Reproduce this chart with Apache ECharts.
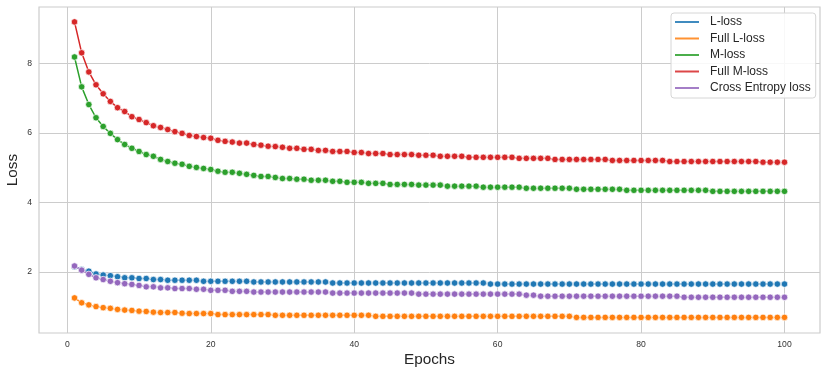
<!DOCTYPE html>
<html><head><meta charset="utf-8">
<script src="https://cdn.jsdelivr.net/npm/echarts@6/dist/echarts.min.js"></script>
<style>html,body{margin:0;padding:0;background:#fff}#c{width:827px;height:375px}</style>
</head><body><div id="c"></div>
<script>
const epochs = [1,2,3,4,5,6,7,8,9,10,11,12,13,14,15,16,17,18,19,20,21,22,23,24,25,26,27,28,29,30,31,32,33,34,35,36,37,38,39,40,41,42,43,44,45,46,47,48,49,50,51,52,53,54,55,56,57,58,59,60,61,62,63,64,65,66,67,68,69,70,71,72,73,74,75,76,77,78,79,80,81,82,83,84,85,86,87,88,89,90,91,92,93,94,95,96,97,98,99,100];

const lLoss = [2.15,2.07,2.02,1.94,1.91,1.89,1.86,1.83,1.83,1.81,
1.81,1.78,1.78,1.76,1.76,1.76,1.76,1.76,1.73,1.73,
1.73,1.73,1.73,1.73,1.73,1.71,1.71,1.71,1.71,1.71,
1.71,1.71,1.71,1.71,1.71,1.71,1.68,1.68,1.68,1.68,
1.68,1.68,1.68,1.68,1.68,1.68,1.68,1.68,1.68,1.68,
1.68,1.68,1.68,1.68,1.68,1.68,1.68,1.68,1.65,1.65,
1.65,1.65,1.65,1.65,1.65,1.65,1.65,1.65,1.65,1.65,
1.65,1.65,1.65,1.65,1.65,1.65,1.65,1.65,1.65,1.65,
1.65,1.65,1.65,1.65,1.65,1.65,1.65,1.65,1.65,1.65,
1.65,1.65,1.65,1.65,1.65,1.65,1.65,1.65,1.65,1.65];

const fullLLoss = [1.25,1.11,1.05,1.00,0.97,0.95,0.92,0.90,0.89,0.87,
0.86,0.84,0.83,0.83,0.83,0.81,0.80,0.80,0.80,0.80,
0.77,0.77,0.77,0.77,0.77,0.77,0.77,0.77,0.75,0.75,
0.75,0.75,0.75,0.75,0.75,0.75,0.75,0.75,0.75,0.75,
0.75,0.75,0.72,0.72,0.72,0.72,0.72,0.72,0.72,0.72,
0.72,0.72,0.72,0.72,0.72,0.72,0.72,0.72,0.72,0.72,
0.72,0.72,0.72,0.72,0.72,0.72,0.72,0.72,0.72,0.72,
0.69,0.69,0.69,0.69,0.69,0.69,0.69,0.69,0.69,0.69,
0.69,0.69,0.69,0.69,0.69,0.69,0.69,0.69,0.69,0.69,
0.69,0.69,0.69,0.69,0.69,0.69,0.69,0.69,0.69,0.69];

const mLoss = [8.19,7.33,6.82,6.44,6.19,5.99,5.81,5.67,5.56,5.47,
5.38,5.33,5.24,5.18,5.13,5.10,5.04,5.01,4.98,4.95,
4.90,4.87,4.87,4.84,4.81,4.78,4.75,4.75,4.72,4.69,
4.69,4.67,4.67,4.64,4.64,4.64,4.61,4.61,4.58,4.58,
4.58,4.55,4.55,4.55,4.52,4.52,4.52,4.52,4.50,4.50,
4.50,4.50,4.47,4.47,4.47,4.47,4.47,4.44,4.44,4.44,
4.44,4.44,4.44,4.41,4.41,4.41,4.41,4.41,4.41,4.41,
4.38,4.38,4.38,4.38,4.38,4.38,4.38,4.35,4.35,4.35,
4.35,4.35,4.35,4.35,4.35,4.35,4.35,4.35,4.35,4.32,
4.32,4.32,4.32,4.32,4.32,4.32,4.32,4.32,4.32,4.32];

const fullMLoss = [9.20,8.31,7.76,7.39,7.13,6.91,6.73,6.62,6.47,6.39,
6.30,6.21,6.16,6.10,6.04,5.99,5.93,5.90,5.87,5.85,
5.79,5.76,5.74,5.71,5.71,5.67,5.65,5.62,5.61,5.59,
5.56,5.56,5.53,5.53,5.50,5.50,5.47,5.47,5.47,5.44,
5.44,5.41,5.41,5.41,5.38,5.38,5.38,5.38,5.36,5.36,
5.36,5.33,5.33,5.33,5.33,5.30,5.30,5.30,5.30,5.30,
5.30,5.30,5.27,5.27,5.27,5.27,5.27,5.24,5.24,5.24,
5.24,5.24,5.24,5.24,5.24,5.21,5.21,5.21,5.21,5.21,
5.21,5.21,5.21,5.18,5.18,5.18,5.18,5.18,5.18,5.18,
5.18,5.18,5.18,5.18,5.18,5.18,5.16,5.16,5.16,5.16];

const ceLoss = [2.17,2.05,1.93,1.83,1.78,1.73,1.69,1.66,1.64,1.61,
1.57,1.57,1.54,1.54,1.52,1.52,1.52,1.50,1.50,1.47,
1.47,1.47,1.44,1.44,1.44,1.42,1.42,1.42,1.42,1.42,
1.42,1.42,1.42,1.42,1.42,1.42,1.39,1.39,1.39,1.39,
1.39,1.39,1.39,1.39,1.39,1.39,1.39,1.39,1.36,1.36,
1.36,1.36,1.36,1.36,1.36,1.36,1.36,1.36,1.36,1.36,
1.36,1.36,1.36,1.33,1.33,1.30,1.30,1.30,1.30,1.30,
1.30,1.30,1.30,1.30,1.30,1.30,1.30,1.30,1.30,1.30,
1.30,1.30,1.30,1.30,1.30,1.27,1.27,1.27,1.27,1.27,
1.27,1.27,1.27,1.27,1.27,1.27,1.27,1.27,1.27,1.27];

const seriesNames = ['L-loss','Full L-loss','M-loss','Full M-loss','Cross Entropy loss'];
const seriesColors = ['#1f77b4','#ff7f0e','#2ca02c','#d62728','#9467bd'];
const seriesValues = [lLoss, fullLLoss, mLoss, fullMLoss, ceLoss];
const xTicks = [0,20,40,60,80,100];
const yTicks = [2,4,6,8];

const FONT = '"Liberation Sans", Arial, sans-serif';
const chart = echarts.init(document.getElementById('c'), null, {renderer:'canvas'});

const series = seriesNames.map((name, k) => ({
  name: name,
  type: 'line',
  data: epochs.map((e, i) => [e, seriesValues[k][i]]),
  symbol: 'circle',
  symbolSize: 6.5,
  showAllSymbol: true,
  lineStyle: {color: seriesColors[k], width: 1.5},
  itemStyle: {color: seriesColors[k], borderColor: '#ffffff', borderWidth: 0.7},
  emphasis: {disabled: true},
  z: 2 + k
}));

chart.setOption({
  animation: false,
  backgroundColor: '#ffffff',
  grid: {left: 39, top: 7, right: 7, bottom: 42, containLabel: false, outerBoundsMode: 'none',
         show: true, borderColor: '#cccccc', borderWidth: 1.2},
  xAxis: {
    type: 'value', min: -3.95, max: 104.95,
    name: 'Epochs', nameLocation: 'middle', nameGap: 19, nameMoveOverlap: false,
    nameTextStyle: {fontFamily: FONT, fontSize: 15.3, color: '#262626'},
    axisLine: {show: false}, 
    axisTick: {show: false, customValues: xTicks},
    axisLabel: {customValues: xTicks, fontFamily: FONT, fontSize: 8.6, color: '#333333', margin: 7},
    splitLine: {show: true, lineStyle: {color: '#cccccc', width: 1}}
  },
  yAxis: {
    type: 'value', min: 0.24, max: 9.63,
    name: 'Loss', nameLocation: 'middle', nameGap: 19, nameRotate: 90, nameMoveOverlap: false,
    nameTextStyle: {fontFamily: FONT, fontSize: 15.3, color: '#262626'},
    axisLine: {show: false},
    axisTick: {show: false, customValues: yTicks},
    axisLabel: {customValues: yTicks, fontFamily: FONT, fontSize: 8.6, color: '#333333', margin: 7},
    splitLine: {show: true, lineStyle: {color: '#cccccc', width: 1}}
  },
  legend: {
    orient: 'vertical',
    left: 671, top: 13,
    data: seriesNames,
    icon: 'rect', itemWidth: 24, itemHeight: 2,
    itemGap: 2.5,
    itemStyle: {borderWidth: 0, opacity: 0.85},
    padding: [2, 5, 3, 4],
    backgroundColor: 'rgba(255,255,255,0.85)',
    borderColor: '#d6d6d6', borderWidth: 1, borderRadius: 3,
    textStyle: {fontFamily: FONT, fontSize: 12, color: '#262626', lineHeight: 14, padding: [0,0,0,6]},
    selectedMode: false
  },
  series: series
});
</script>
</body></html>
